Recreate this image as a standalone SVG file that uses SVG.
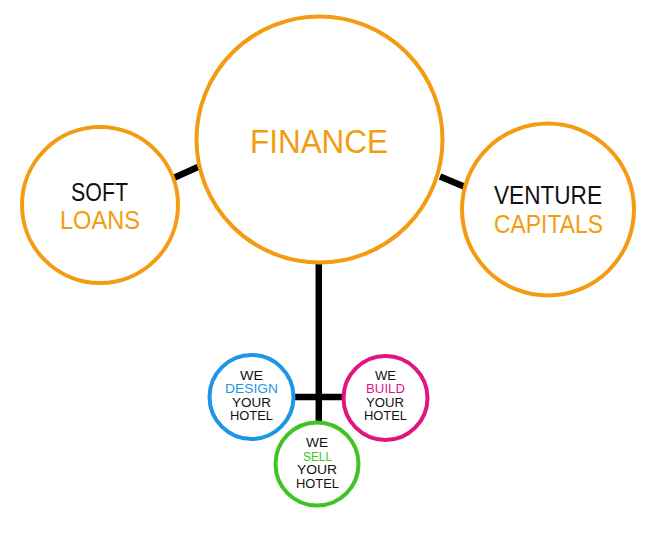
<svg xmlns="http://www.w3.org/2000/svg" width="659" height="534" viewBox="0 0 659 534">
<style>
.c{fill:#fff;stroke-width:4}
.o{stroke:#f39c12}
.t{font-family:"Liberation Sans","Noto Sans",sans-serif;text-anchor:middle}
.big{font-size:33px}
.mid{font-size:25px}
.sm{font-size:12.5px}
.k{fill:#111}
.fo{fill:#f39c12}
.fb{fill:#1e96e6}
.fm{fill:#e2147f}
.fg{fill:#40c423}
.ln{stroke:#000;stroke-width:6.5;fill:none}
</style>
<rect width="659" height="534" fill="#fff"/>
<g id="connectors">
<line class="ln" x1="173.5" y1="178" x2="198" y2="167"/>
<line class="ln" x1="440" y1="176.5" x2="464" y2="186.5"/>
<line class="ln" x1="318.8" y1="263" x2="318.8" y2="423"/>
<line class="ln" x1="294" y1="397" x2="344" y2="397"/>
</g>
<g id="finance">
<circle class="c o" cx="319.5" cy="139.5" r="123"/>
<text class="t big fo" x="319" y="153" textLength="138" lengthAdjust="spacingAndGlyphs">FINANCE</text>
</g>
<g id="soft-loans">
<circle class="c o" cx="100" cy="205" r="78"/>
<text class="t mid k" x="99.5" y="201" textLength="57" lengthAdjust="spacingAndGlyphs">SOFT</text>
<text class="t mid fo" x="100" y="229" textLength="80" lengthAdjust="spacingAndGlyphs">LOANS</text>
</g>
<g id="venture-capitals">
<circle class="c o" cx="548" cy="209.5" r="86"/>
<text class="t mid k" x="548" y="204" textLength="108" lengthAdjust="spacingAndGlyphs">VENTURE</text>
<text class="t mid fo" x="548.5" y="233" textLength="109" lengthAdjust="spacingAndGlyphs">CAPITALS</text>
</g>
<g id="design">
<circle class="c" stroke="#1e96e6" cx="251.5" cy="397" r="42"/>
<text class="t sm k" x="251.5" y="380" textLength="23" lengthAdjust="spacingAndGlyphs">WE</text>
<text class="t sm fb" x="251.5" y="393" textLength="53" lengthAdjust="spacingAndGlyphs">DESIGN</text>
<text class="t sm k" x="251.5" y="406.5" textLength="39" lengthAdjust="spacingAndGlyphs">YOUR</text>
<text class="t sm k" x="251.5" y="420" textLength="43" lengthAdjust="spacingAndGlyphs">HOTEL</text>
</g>
<g id="build">
<circle class="c" stroke="#e2147f" cx="385.5" cy="398" r="42"/>
<text class="t sm k" x="385.5" y="380" textLength="21" lengthAdjust="spacingAndGlyphs">WE</text>
<text class="t sm fm" x="385.5" y="393" textLength="39" lengthAdjust="spacingAndGlyphs">BUILD</text>
<text class="t sm k" x="385" y="406.5" textLength="38" lengthAdjust="spacingAndGlyphs">YOUR</text>
<text class="t sm k" x="385.5" y="420" textLength="43" lengthAdjust="spacingAndGlyphs">HOTEL</text>
</g>
<g id="sell">
<circle class="c" stroke="#40c423" cx="317" cy="464" r="41.5"/>
<text class="t sm k" x="317" y="447" textLength="22" lengthAdjust="spacingAndGlyphs">WE</text>
<text class="t sm fg" x="317.5" y="460.5" textLength="29" lengthAdjust="spacingAndGlyphs">SELL</text>
<text class="t sm k" x="317" y="474" textLength="40" lengthAdjust="spacingAndGlyphs">YOUR</text>
<text class="t sm k" x="317.5" y="487.5" textLength="43" lengthAdjust="spacingAndGlyphs">HOTEL</text>
</g>
</svg>
